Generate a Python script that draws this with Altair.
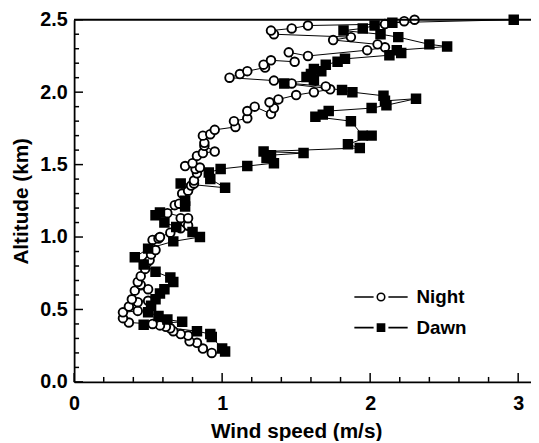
import altair as alt
import pandas as pd

# Night profile (wind speed m/s, altitude km), bottom to top
night_speed = [0.93, 0.87, 0.83, 0.78, 0.77, 0.72, 0.67, 0.65, 0.62, 0.58, 0.53, 0.37, 0.33, 0.33,
               0.43, 0.37, 0.43, 0.50, 0.39, 0.41, 0.50, 0.45, 0.43, 0.45, 0.48, 0.49, 0.51, 0.52,
               0.55, 0.53, 0.57, 0.58, 0.65, 0.72, 0.75, 0.77, 0.72, 0.77, 0.63, 0.68, 0.71, 0.73,
               0.77, 0.79, 0.81, 0.81, 0.83, 0.82, 0.85, 0.75, 0.80, 0.83, 0.87, 0.95, 0.88, 0.88,
               0.87, 0.92, 0.95, 1.09, 1.08, 1.17, 1.17, 1.22, 1.33, 1.35, 1.32, 1.38, 1.50, 1.62,
               1.73, 1.70, 1.47, 1.35, 1.05, 1.12, 1.17, 1.29, 1.28, 1.33, 1.49, 1.45, 1.58, 1.98,
               2.10, 2.05, 1.75, 1.87, 1.35, 1.33, 1.47, 1.58, 2.10, 2.23, 2.30]
night_alt = [0.20, 0.23, 0.27, 0.28, 0.32, 0.33, 0.35, 0.37, 0.38, 0.39, 0.40, 0.41, 0.44, 0.48,
             0.49, 0.52, 0.55, 0.56, 0.57, 0.63, 0.64, 0.67, 0.69, 0.73, 0.78, 0.82, 0.84, 0.88,
             0.91, 0.98, 0.99, 1.00, 1.03, 1.06, 1.10, 1.08, 1.13, 1.13, 1.165, 1.22, 1.23, 1.30,
             1.32, 1.355, 1.37, 1.39, 1.44, 1.47, 1.48, 1.49, 1.51, 1.56, 1.58, 1.59, 1.63, 1.65,
             1.70, 1.71, 1.74, 1.76, 1.80, 1.82, 1.87, 1.90, 1.85, 1.89, 1.93, 1.95, 1.98, 2.00,
             2.02, 2.04, 2.06, 2.08, 2.10, 2.125, 2.145, 2.17, 2.19, 2.22, 2.21, 2.275, 2.25, 2.29,
             2.31, 2.33, 2.36, 2.38, 2.40, 2.425, 2.44, 2.46, 2.47, 2.49, 2.50]

# Dawn profile
dawn_speed = [1.02, 1.00, 0.93, 0.92, 0.83, 0.47, 0.73, 0.63, 0.57, 0.50, 0.52, 0.55, 0.58, 0.61,
              0.67, 0.65, 0.55, 0.47, 0.41, 0.50, 0.67, 0.85, 0.80, 0.69, 0.61, 0.55, 0.58, 0.75,
              0.75, 0.72, 1.02, 0.92, 0.91, 0.99, 1.17, 1.35, 1.30, 1.33, 1.55, 1.28, 1.93, 1.85,
              2.01, 1.95, 1.87, 1.63, 1.68, 1.72, 2.01, 2.11, 2.31, 2.10, 2.09, 1.88, 1.81, 1.42,
              1.62, 1.57, 1.60, 1.67, 1.62, 1.70, 1.78, 1.83, 2.13, 2.21, 2.18, 2.52, 2.40, 2.19,
              2.07, 1.82, 1.95, 2.03, 2.15, 2.97]
dawn_alt = [0.21, 0.23, 0.31, 0.33, 0.35, 0.395, 0.415, 0.43, 0.455, 0.48, 0.525, 0.57, 0.61, 0.64,
            0.69, 0.72, 0.76, 0.81, 0.86, 0.92, 0.97, 1.00, 1.035, 1.07, 1.10, 1.15, 1.17, 1.21,
            1.25, 1.37, 1.34, 1.40, 1.445, 1.47, 1.49, 1.51, 1.545, 1.565, 1.58, 1.59, 1.615, 1.64,
            1.70, 1.70, 1.80, 1.83, 1.845, 1.87, 1.89, 1.91, 1.955, 1.94, 1.975, 2.00, 2.015, 2.06,
            2.085, 2.105, 2.125, 2.145, 2.16, 2.19, 2.21, 2.23, 2.255, 2.27, 2.29, 2.315, 2.33, 2.38,
            2.40, 2.425, 2.44, 2.46, 2.48, 2.50]

series_names = ["Night", "Dawn"]

# axis tick values
x_major = [0, 1, 2, 3]
x_minor = [0.2, 0.4, 0.6, 0.8, 1.2, 1.4, 1.6, 1.8, 2.2, 2.4, 2.6, 2.8]
y_major = [0.0, 0.5, 1.0, 1.5, 2.0, 2.5]
y_minor = [0.1, 0.2, 0.3, 0.4, 0.6, 0.7, 0.8, 0.9, 1.1, 1.2, 1.3, 1.4,
           1.6, 1.7, 1.8, 1.9, 2.1, 2.2, 2.3, 2.4]

df = pd.concat([
    pd.DataFrame({"speed": night_speed, "alt": night_alt, "series": "Night",
                  "idx": range(len(night_speed))}),
    pd.DataFrame({"speed": dawn_speed, "alt": dawn_alt, "series": "Dawn",
                  "idx": range(len(dawn_speed))}),
], ignore_index=True)

FONT = "Liberation Sans"
W, H = 463, 367
XMAX = W / 150.0
MAJ, MIN = 9, 5

x_axis = alt.Axis(values=x_major, format="d", ticks=False,
                  title="Wind speed (m/s)", titleX=225, titlePadding=7,
                  labelPadding=12, labelFlush=False, grid=False)
y_axis = alt.Axis(values=y_major, format=".1f", ticks=False,
                  title="Altitude (km)", titlePadding=8,
                  labelPadding=7, labelFlush=False, grid=False)

xs = alt.Scale(domain=[0, XMAX], nice=False, zero=False)
ys = alt.Scale(domain=[0, 2.5], nice=False, zero=False)
X = alt.X("speed:Q", scale=xs, axis=x_axis)
Y = alt.Y("alt:Q", scale=ys, axis=y_axis)

base = alt.Chart(df)

lines = base.mark_line(color="black", strokeWidth=1).encode(
    x=X, y=Y, detail="series:N", order="idx:Q")

points = base.mark_point(filled=True, stroke="black", strokeWidth=1.9, opacity=1, size=76).encode(
    x=X, y=Y,
    shape=alt.Shape("series:N", scale=alt.Scale(domain=series_names, range=["circle", "square"]),
                    legend=None),
    fill=alt.Fill("series:N", scale=alt.Scale(domain=series_names, range=["white", "black"]),
                  legend=None),
)

night_path = ("M-2.7,0H-0.75M0.75,0H2.7"
              "M-0.38,0A0.38,0.38,0,1,1,0.38,0A0.38,0.38,0,1,1,-0.38,0Z")
dawn_path = "M-2.7,0H-0.75M0.75,0H2.7M-0.36,-0.36H0.36V0.36H-0.36Z"

leg = alt.Legend(title=None, orient="none", legendX=300, legendY=270, padding=0,
                 labelFont=FONT, labelFontSize=19, labelFontWeight="bold", labelColor="black",
                 symbolSize=400, symbolStrokeWidth=1.6, symbolOpacity=1,
                 labelOffset=25, rowPadding=10)

legend_layer = base.transform_filter("false").mark_point(
    filled=True, strokeWidth=1.6, opacity=1).encode(
    x=X, y=Y,
    shape=alt.Shape("series:N", scale=alt.Scale(domain=series_names, range=[night_path, dawn_path]),
                    legend=leg),
    fill=alt.Fill("series:N", scale=alt.Scale(domain=series_names, range=["white", "black"]),
                  legend=leg),
    stroke=alt.Stroke("series:N", scale=alt.Scale(domain=series_names, range=["black", "black"]),
                      legend=leg),
)

# inward ticks drawn through the same scales and axes
def xtick_layer(vals, length):
    return alt.Chart(pd.DataFrame({"speed": vals})).mark_rule(color="black", strokeWidth=1.5).encode(
        x=X, y=alt.value(H), y2=alt.value(H - length))

def ytick_layer(vals, length):
    return alt.Chart(pd.DataFrame({"alt": vals})).mark_rule(color="black", strokeWidth=1.5).encode(
        y=Y, x=alt.value(0), x2=alt.value(length))

top_border = alt.Chart(pd.DataFrame({"a": [0]})).mark_rule(color="black", strokeWidth=1.8).encode(
    x=alt.value(0), x2=alt.value(W), y=alt.value(0))

chart = alt.layer(lines, points, legend_layer,
                  xtick_layer(x_major, MAJ), xtick_layer(x_minor, MIN),
                  ytick_layer(y_major, MAJ), ytick_layer(y_minor, MIN),
                  top_border).resolve_scale(
    shape="independent", fill="independent", stroke="independent"
).properties(
    width=W, height=H,
    autosize=alt.AutoSizeParams(type="none"),
    padding={"left": 67, "top": 9, "right": 0, "bottom": 57},
).configure_view(stroke=None).configure_axis(
    labelFont=FONT, labelFontSize=20, labelFontWeight="bold", labelColor="black",
    titleFont=FONT, titleFontSize=21, titleFontWeight="bold", titleColor="black",
    domainColor="black", domainWidth=1.8,
)

chart.save("out.html", embed_options={"renderer": "svg", "actions": False})
